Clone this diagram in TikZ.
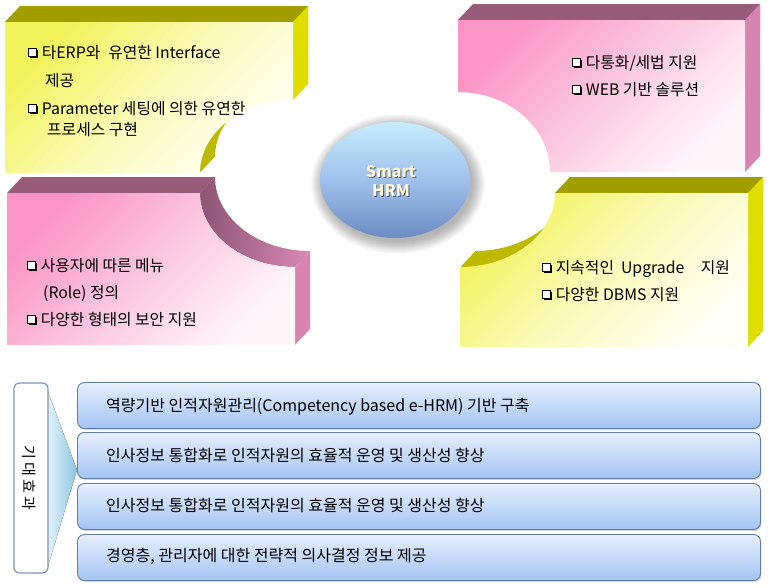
\documentclass[tikz,border=0pt]{standalone}
\usepackage{fontspec}
\setmainfont{Noto Sans CJK KR}
\usetikzlibrary{shapes.geometric,shadows}
\definecolor{yfA}{HTML}{F2F25A}
\definecolor{yfM}{HTML}{FAFAB8}
\definecolor{yfB}{HTML}{FFFFF6}
\definecolor{ytop}{HTML}{A29E00}
\definecolor{yside}{HTML}{E0DE00}
\definecolor{ycut}{HTML}{BDB800}
\definecolor{pfA}{HTML}{FC94C6}
\definecolor{pfM}{HTML}{FBC8E0}
\definecolor{pfB}{HTML}{FFF6FA}
\definecolor{ptop}{HTML}{985C7A}
\definecolor{pside}{HTML}{D884B0}
\definecolor{pcut}{HTML}{B46E94}
\definecolor{pcutA}{HTML}{8E5474}
\definecolor{pcutB}{HTML}{D88AB4}
\definecolor{hrmA}{HTML}{C6ECFC}
\definecolor{hrmM}{HTML}{A0C0EC}
\definecolor{hrmB}{HTML}{6C8CC2}
\definecolor{hrmtxt}{HTML}{FFFBD6}
\definecolor{barA}{HTML}{E6EFFD}
\definecolor{barB}{HTML}{A4C4F4}
\definecolor{barline}{HTML}{627EA4}
\definecolor{lblline}{HTML}{7E96B4}
\definecolor{triA}{HTML}{E2F2FA}
\definecolor{triB}{HTML}{8CC4E0}
\newcommand\cbx{\tikz[baseline=0pt,x=1pt,y=1pt]{\fill (2,-0.3) rectangle (10.2,7.9);
  \draw[line width=1.1pt,fill=white] (0.55,1.8) rectangle (8.1,9.6);}\hspace{3.5pt}}
\begin{document}
\begin{tikzpicture}[x=1pt,y=-1pt,
  txt/.style={anchor=base west,inner sep=0pt,font=\fontsize{15.8}{18}\selectfont},
  bartxt/.style={anchor=base west,inner sep=0pt,font=\fontsize{16}{19}\selectfont},
  barbox/.style={draw=barline,line width=0.9pt,rounded corners=7pt,top color=barA,bottom color=barB,
    minimum width=683pt,minimum height=46pt,anchor=north west,inner sep=0pt,
    drop shadow={shadow xshift=1pt,shadow yshift=-1.5pt,opacity=0.35}},
  yfront/.style={top color=yfA,bottom color=yfB,middle color=yfM,shading angle=45},
  pfront/.style={top color=pfA,bottom color=pfB,middle color=pfM,shading angle=45}]
\useasboundingbox (0,0) rectangle (770,587);
\fill[white] (0,0) rectangle (770,587);

% ---------- top-left yellow box
\foreach \t in {1,...,16}
  \fill[ycut,shift={(\t*15/16,-\t)}] (5,22) -- (293,22) -- (293,100) .. controls (241.6,100) and (200,132.7) .. (200,173) -- (5,173) -- cycle;
\fill[ytop] (5,22) -- (293,22) -- (308,6) -- (20,6) -- cycle;
\fill[yside] (293,22) -- (308,6) -- (308,84) -- (293,100) -- cycle;
\shade[yfront] (5,22) -- (293,22) -- (293,100) .. controls (241.6,100) and (200,132.7) .. (200,173) -- (5,173) -- cycle;

% ---------- top-right pink box
\foreach \t in {1,...,16}
  \fill[pcut,shift={(\t*15/16,-\t)}] (458,20) -- (745,20) -- (745,172) -- (550,172) .. controls (550,127.8) and (508.8,92) .. (458,92) -- cycle;
\fill[ptop] (458,20) -- (745,20) -- (760,4) -- (473,4) -- cycle;
\fill[pside] (745,20) -- (760,4) -- (760,156) -- (745,172) -- cycle;
\shade[pfront] (458,20) -- (745,20) -- (745,172) -- (550,172) .. controls (550,127.8) and (508.8,92) .. (458,92) -- cycle;

% ---------- bottom-left pink box
\fill[ptop] (7,193) -- (200,193) -- (215,177) -- (22,177) -- cycle;
\shade[left color=pcutA,right color=pcutB] (200,193) .. controls (200,233.9) and (242.5,267) .. (295,267)
  -- (310,251) .. controls (257.5,251) and (215,217.9) .. (215,177) -- cycle;
\fill[pside] (295,267) -- (310,251) -- (310,329) -- (295,345) -- cycle;
\shade[pfront] (7,193) -- (200,193) .. controls (200,233.9) and (242.5,267) .. (295,267) -- (295,345) -- (7,345) -- cycle;

% ---------- bottom-right yellow box
\foreach \t in {1,...,16}
  \fill[ycut,shift={(\t*15/16,-\t)}] (555,193) -- (748,193) -- (748,347) -- (460,347) -- (460,267) .. controls (512.5,267) and (555,233.9) .. (555,193) -- cycle;
\fill[ytop] (555,193) -- (748,193) -- (763,177) -- (570,177) -- cycle;
\fill[yside] (748,193) -- (763,177) -- (763,331) -- (748,347) -- cycle;
\shade[yfront] (555,193) -- (748,193) -- (748,347) -- (460,347) -- (460,267) .. controls (512.5,267) and (555,233.9) .. (555,193) -- cycle;

% ---------- box texts
\node[txt] (tl1) at (28,58) {\cbx 타ERP와\hspace{4.5pt} 유연한 Interface};
\node[txt] (tl2) at (45,86) {제공};
\node[txt] (tl3) at (28,114) {\cbx Parameter 세팅에 의한 유연한};
\node[txt] (tl4) at (47,135) {프로세스 구현};
\node[txt] (tr1) at (572,68) {\cbx 다통화/세법 지원};
\node[txt] (tr2) at (572,95) {\cbx WEB 기반 솔루션};
\node[txt] (bl1) at (27,271) {\cbx 사용자에 따른 메뉴};
\node[txt] (bl2) at (43,298) {(Role) 정의};
\node[txt] (bl3) at (27,325) {\cbx 다양한 형태의 보안 지원};
\node[txt] (br1) at (542,273) {\cbx 지속적인\hspace{3.5pt} Upgrade\hspace{13pt} 지원};
\node[txt] (br2) at (542,300) {\cbx 다양한 DBMS 지원};

% ---------- centre ellipse
\foreach \r in {1,...,13}
  \fill[black,opacity=0.022] (398,184) ellipse [x radius=74+\r, y radius=57+\r];
\node[ellipse,minimum width=150pt,minimum height=116pt,inner sep=0pt,
  top color=hrmA,bottom color=hrmB,middle color=hrmM] (hrm) at (395,180) {};
\node[font=\fontsize{16}{19}\selectfont\bfseries,text=black,opacity=0.45,align=center] (hrmsh) at (392,182) {Smart\\HRM};
\node[font=\fontsize{16}{19}\selectfont\bfseries,text=hrmtxt,align=center] (hrmlbl) at (391,180.5) {Smart\\HRM};

% ---------- bottom section
\fill[left color=triA,right color=triB] (48,392) -- (77,470) -- (48,566) -- cycle;
\node[draw=lblline,line width=1.2pt,fill=white,rounded corners=5pt,minimum width=34pt,minimum height=190pt,inner sep=0pt] (lbl) at (31,478) {};
\node[rotate=-90,font=\fontsize{15}{18}\selectfont,inner sep=0pt] (lbltxt) at (29,478) {기\hspace{3pt}대\hspace{3pt}효\hspace{3pt}과};

\node[barbox] (bar1) at (77,382) {};
\node[barbox] (bar2) at (77,432) {};
\node[barbox] (bar3) at (77,483) {};
\node[barbox] (bar4) at (77,534) {};
\node[bartxt] (t1) at (106,411) {역량기반 인적자원관리(Competency based e-HRM) 기반 구축};
\node[bartxt] (t2) at (106,461) {인사정보 통합화로 인적자원의 효율적 운영 및 생산성 향상};
\node[bartxt] (t3) at (106,511) {인사정보 통합화로 인적자원의 효율적 운영 및 생산성 향상};
\node[bartxt] (t4) at (106,561) {경영층, 관리자에 대한 전략적 의사결정 정보 제공};
\end{tikzpicture}
\end{document}
